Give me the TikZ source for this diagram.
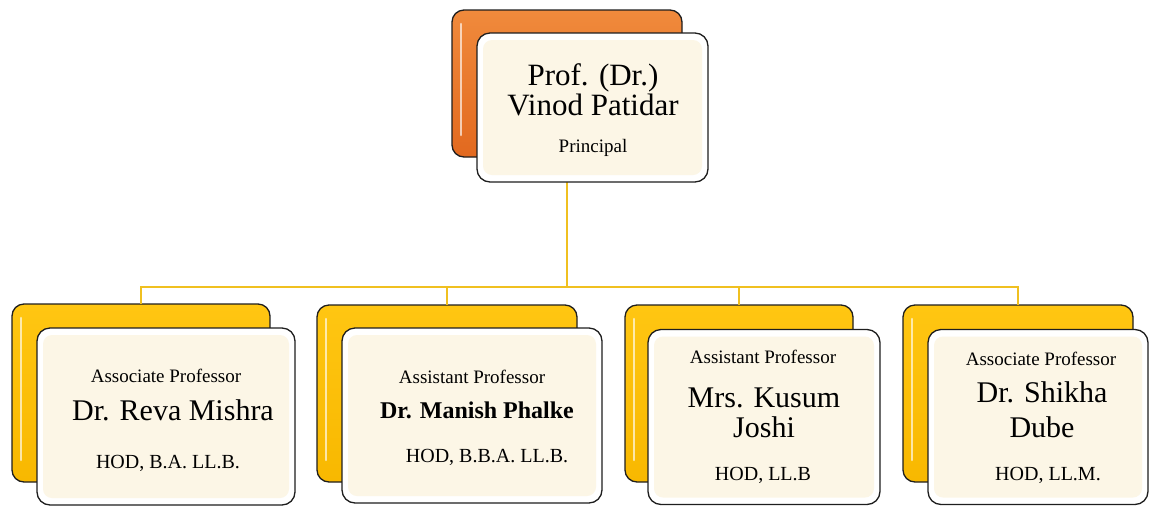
\documentclass[tikz,border=0pt]{standalone}
\usepackage{fontspec}
\setmainfont{Liberation Serif}
\usetikzlibrary{calc}
\definecolor{frame}{HTML}{1E1E1E}
\definecolor{linkclr}{HTML}{F0C020}
\definecolor{orangetop}{HTML}{F08A3C}
\definecolor{orangebot}{HTML}{E2691F}
\definecolor{yellowtop}{HTML}{FFC612}
\definecolor{yellowbot}{HTML}{F8B800}
\definecolor{cream}{HTML}{FCF6E6}
\tikzset{
  backbox/.style={draw=frame, line width=1.3pt, rounded corners=12pt, inner sep=0pt, outer sep=0pt},
  orangebox/.style={backbox, top color=orangetop, bottom color=orangebot},
  yellowbox/.style={backbox, top color=yellowtop, bottom color=yellowbot},
  frontbox/.style={draw=frame, line width=1.3pt, rounded corners=13pt, fill=white, inner sep=0pt, outer sep=0pt,
    path picture={\fill[cream, rounded corners=9pt]
      ([shift={(6pt,7pt)}]path picture bounding box.south west) rectangle
      ([shift={(-6pt,-7pt)}]path picture bounding box.north east);}},
  gloss/.style={draw=white, opacity=0.65, line width=2.6pt, line cap=round},
  link/.style={draw=linkclr, line width=1.6pt},
  txt/.style={anchor=base, inner sep=0pt, text=black},
  role/.style={txt, font=\fontsize{19}{21}\selectfont},
  who/.style={txt, font=\fontsize{30}{32}\selectfont},
  dept/.style={txt, font=\fontsize{20}{22}\selectfont},
}
\begin{document}
\begin{tikzpicture}[x=1pt, y=-1pt]
  \useasboundingbox (0,0) rectangle (1152,507);
  % back boxes
  \node[orangebox, minimum width=230pt, minimum height=147pt] (pback) at (567,83.5) {};
  \node[yellowbox, minimum width=258pt, minimum height=178pt] (aback) at (141,393) {};
  \node[yellowbox, minimum width=260pt, minimum height=177pt] (bback) at (447,393.5) {};
  \node[yellowbox, minimum width=228pt, minimum height=177pt] (cback) at (739,393.5) {};
  \node[yellowbox, minimum width=230pt, minimum height=177pt] (dback) at (1018,393.5) {};
  \foreach \b in {pback,aback,bback,cback,dback}
    \draw[gloss] ([xshift=9pt,yshift=-14pt]\b.north west) -- ([xshift=9pt,yshift=22pt]\b.south west);
  % connectors
  \coordinate (bus) at (567,287);
  \draw[link] (pback.south) -- (bus);
  \foreach \b in {aback,bback,cback,dback}
    \draw[link] (bus) -| (\b.north);
  % front boxes
  \node[frontbox, minimum width=231pt, minimum height=149pt] (pfront) at (592.5,107.5) {};
  \node[frontbox, minimum width=258pt, minimum height=177pt] (afront) at (166,416.5) {};
  \node[frontbox, minimum width=260pt, minimum height=175pt] (bfront) at (472,415.5) {};
  \node[frontbox, minimum width=232pt, minimum height=175pt] (cfront) at (764,417) {};
  \node[frontbox, minimum width=220pt, minimum height=175pt] (dfront) at (1038,417) {};
  % texts
  \node[who, font=\fontsize{31}{33}\selectfont] (pname1) at (593,85) {Prof. (Dr.)};
  \node[who, font=\fontsize{31}{33}\selectfont] (pname2) at (593,115) {Vinod Patidar};
  \node[role] (prole) at (593,152) {Principal};
  \node[role] (arole) at (166,382) {Associate Professor};
  \node[who] (aname) at (173,420) {Dr. Reva Mishra};
  \node[dept] (adept) at (168,468) {HOD, B.A. LL.B.};
  \node[role] (brole) at (472,383) {Assistant Professor};
  \node[who, font=\bfseries\fontsize{24}{26}\selectfont] (bname) at (477,418) {Dr. Manish Phalke};
  \node[dept] (bdept) at (487,462) {HOD, B.B.A. LL.B.};
  \node[role] (crole) at (763,363) {Assistant Professor};
  \node[who] (cname1) at (764,407) {Mrs. Kusum};
  \node[who] (cname2) at (764,437) {Joshi};
  \node[dept] (cdept) at (763,480) {HOD, LL.B};
  \node[role] (drole) at (1041,365) {Associate Professor};
  \node[who] (dname1) at (1042,402) {Dr. Shikha};
  \node[who] (dname2) at (1042,437) {Dube};
  \node[dept] (ddept) at (1048,480) {HOD, LL.M.};
\end{tikzpicture}
\end{document}
